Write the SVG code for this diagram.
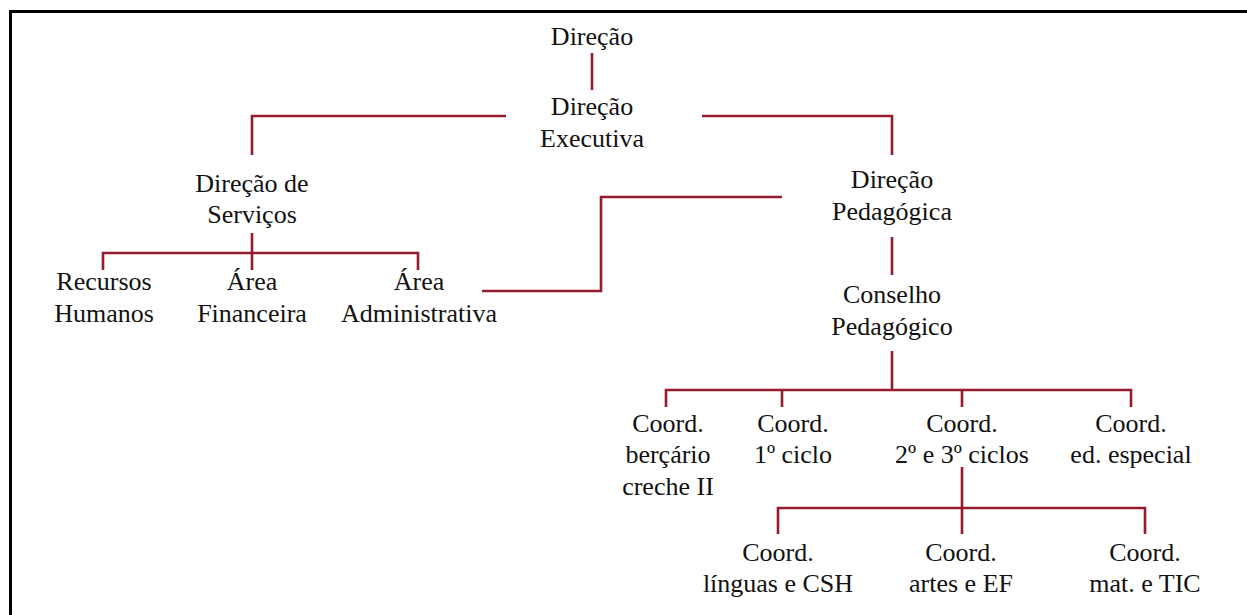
<svg xmlns="http://www.w3.org/2000/svg" width="1247" height="615" viewBox="0 0 1247 615">
<style>
.c{fill:none;stroke:#951b2f;stroke-width:2.6}
.b{fill:none;stroke:#000;stroke-width:3}
</style>
<rect width="1247" height="615" fill="#fff"/>
<path class="b" d="M10.5,615 V11.5 H1247"/>
<g id="connectors">
<path class="c" d="M592,53 V90"/>
<path class="c" d="M506,116 H252 V155"/>
<path class="c" d="M702,116 H892 V155"/>
<path class="c" d="M252,233 V270 M103,270 V253 H418 V270"/>
<path class="c" d="M482,291 H601 V197 H782"/>
<path class="c" d="M892,237 V275"/>
<path class="c" d="M892,351 V390 M666,407 V390 H1131 V407 M782,390 V407 M962,390 V407"/>
<path class="c" d="M962,467 V534 M778,534 V508 H1145 V534"/>
</g>
<g id="nodes" font-family="'Liberation Serif', 'DejaVu Serif', serif" font-size="26" fill="#111" text-anchor="middle">
<g id="direcao"><text x="592" y="45">Direção</text></g>
<g id="direcao-executiva"><text x="592" y="115">Direção</text><text x="592" y="147">Executiva</text></g>
<g id="direcao-servicos"><text x="252" y="192">Direção de</text><text x="252" y="223">Serviços</text></g>
<g id="recursos-humanos"><text x="104" y="290">Recursos</text><text x="104" y="322">Humanos</text></g>
<g id="area-financeira"><text x="252" y="290">Área</text><text x="252" y="322">Financeira</text></g>
<g id="area-administrativa"><text x="419" y="290">Área</text><text x="419" y="322">Administrativa</text></g>
<g id="direcao-pedagogica"><text x="892" y="188">Direção</text><text x="892" y="220">Pedagógica</text></g>
<g id="conselho-pedagogico"><text x="892" y="303">Conselho</text><text x="892" y="335">Pedagógico</text></g>
<g id="coord-bercario"><text x="668" y="432">Coord.</text><text x="668" y="463">berçário</text><text x="668" y="495">creche II</text></g>
<g id="coord-1ciclo"><text x="793" y="432">Coord.</text><text x="793" y="463">1º ciclo</text></g>
<g id="coord-23ciclos"><text x="962" y="432">Coord.</text><text x="962" y="463">2º e 3º ciclos</text></g>
<g id="coord-especial"><text x="1131" y="432">Coord.</text><text x="1131" y="463">ed. especial</text></g>
<g id="coord-linguas"><text x="778" y="561">Coord.</text><text x="778" y="592">línguas e CSH</text></g>
<g id="coord-artes"><text x="961" y="561">Coord.</text><text x="961" y="592">artes e EF</text></g>
<g id="coord-mat"><text x="1145" y="561">Coord.</text><text x="1145" y="592">mat. e TIC</text></g>
</g>
</svg>
